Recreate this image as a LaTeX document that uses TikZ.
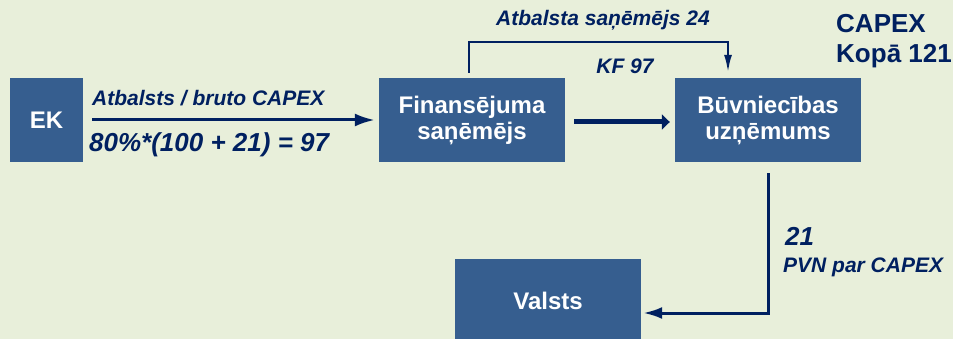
\documentclass[tikz,border=0pt]{standalone}
\usepackage{fontspec}
\setmainfont{Liberation Sans}
\usetikzlibrary{arrows.meta,positioning}

\definecolor{bgpale}{RGB}{232,239,218}
\definecolor{boxblue}{RGB}{54,94,143}
\definecolor{inknavy}{RGB}{0,32,96}

\tikzset{
    party/.style={fill=boxblue, text=white, inner sep=0pt, align=center,
        minimum width=186pt, minimum height=84pt,
        font=\bfseries\fontsize{24}{26}\selectfont},
    flowlabel/.style={text=inknavy, inner sep=0pt, anchor=base west,
        font=\bfseries\itshape\fontsize{21}{24}\selectfont},
    bignum/.style={flowlabel, font=\bfseries\itshape\fontsize{26}{30}\selectfont},
    totallbl/.style={flowlabel, font=\bfseries\fontsize{26}{30}\selectfont},
    flow/.style={draw=inknavy, line width=3pt, -{Latex[length=20pt,width=13pt]}},
}

\begin{document}
\begin{tikzpicture}[x=1pt, y=-1pt]
    % background
    \fill[bgpale] (0,0) rectangle (953,339);
    \clip (0,0) rectangle (953,339);

    % parties
    \node[party, minimum width=73pt] (ek) at (46.5,120) {EK};
    \node[party] (fin) at (472,120) {Finansējuma\\saņēmējs};
    \node[party] (buv) at (768,120) {Būvniecības\\uzņēmums};
    \node[party] (valsts) at (548,301) {Valsts};

    % EK -> finansejuma sanemejs
    \draw[flow, shorten <=9pt, shorten >=4pt] (ek) -- (fin);
    \node[flowlabel] (grantlbl) at (92,106) {Atbalsts / bruto CAPEX};
    \node[bignum] (grantsum) at (89,152) {80\%*(100 + 21) = 97};

    % sanemejs -> uznemums
    \draw[draw=inknavy, line width=5pt, -{Triangle[length=8pt,width=15pt]},
        shorten <=9pt, shorten >=5pt]
        ([yshift=-2pt]fin.east) -- ([yshift=-2pt]buv.west);
    \draw[draw=inknavy, line width=2.5pt, -{Latex[length=18pt,width=8pt]}]
        ([shift={(-3pt,5pt)}]fin.north) -- ++(0,-31) -| ([shift={(-40pt,5pt)}]buv.north);
    \node[flowlabel, anchor=base] (ownlbl) at (603,26) {Atbalsta saņēmējs 24};
    \node[flowlabel, anchor=base] (kflbl) at (625,74) {KF 97};

    % total
    \node[totallbl] (capex) at (836,33) {CAPEX};
    \node[totallbl] (kopa) at (836,63) {Kopā 121};

    % VAT -> valsts
    \draw[flow, -{Latex[length=19pt,width=12pt]}, shorten <=11pt, shorten >=2pt]
        (buv.south) |- ([yshift=-12pt]valsts.east);
    \node[bignum] (vatsum) at (785,246) {21};
    \node[flowlabel] (vatlbl) at (783,272) {PVN par CAPEX};
\end{tikzpicture}
\end{document}
